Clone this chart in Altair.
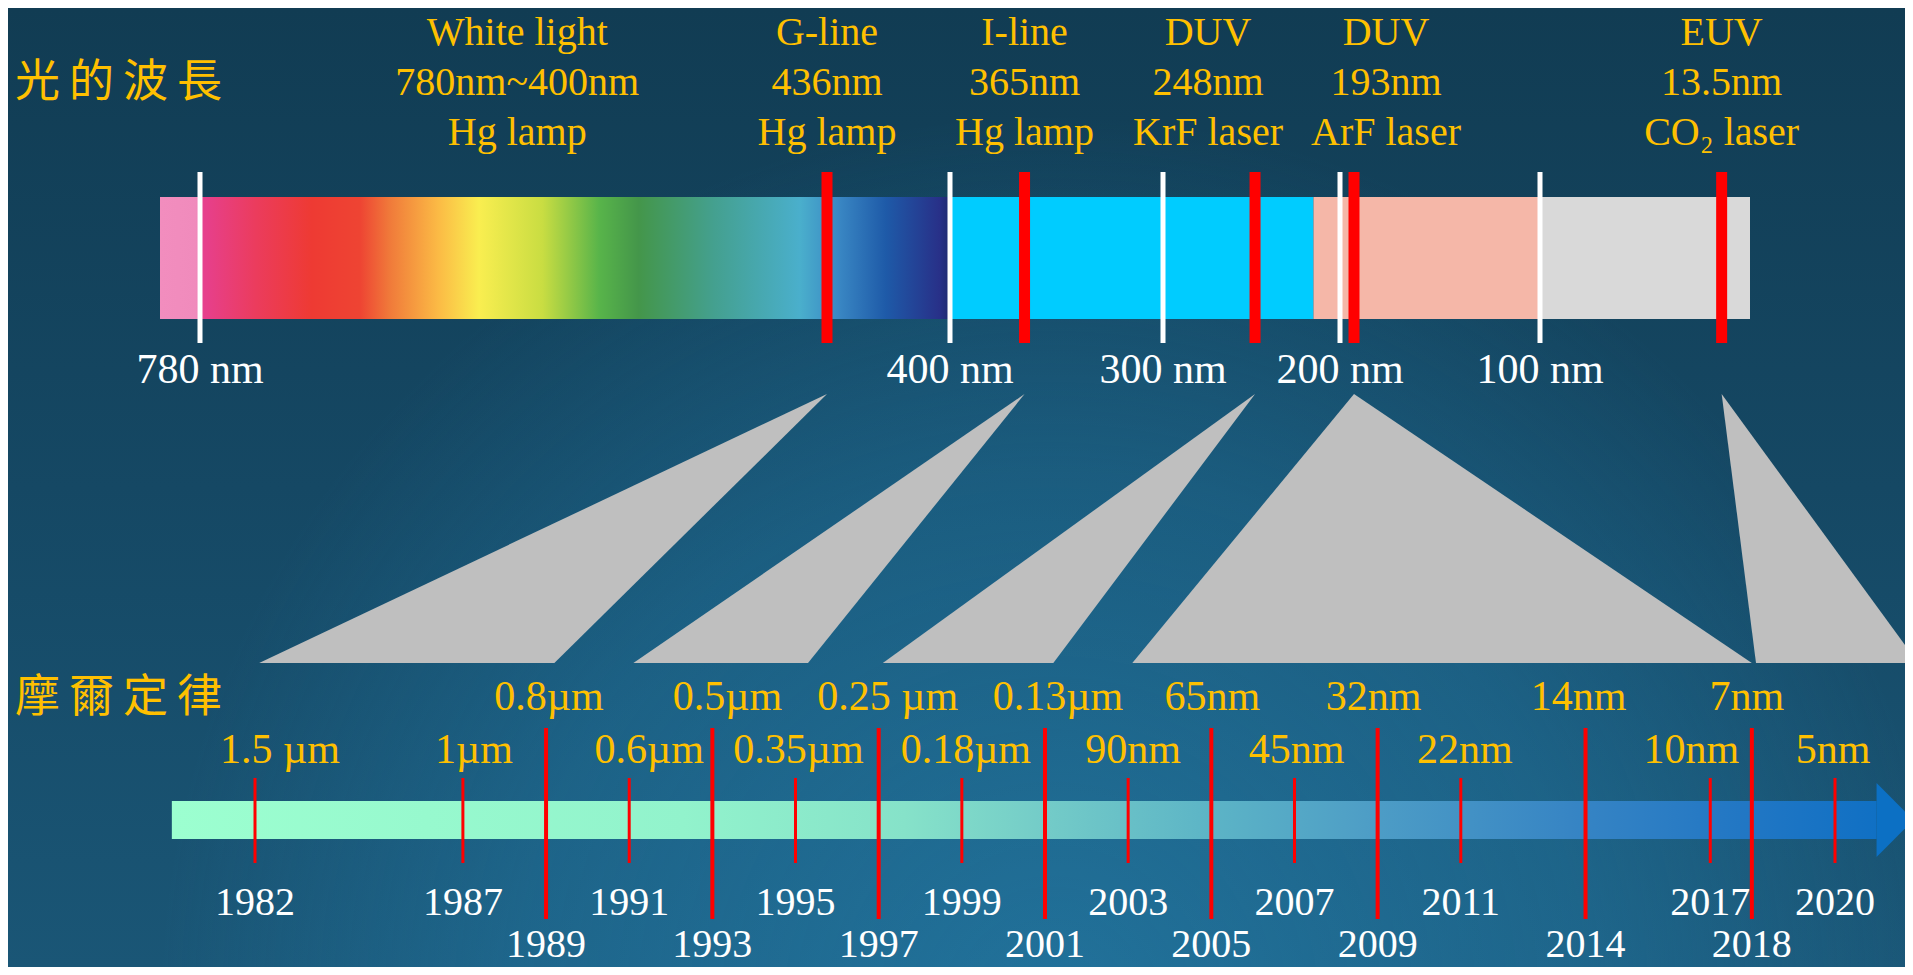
import altair as alt
import pandas as pd

# ================= values =================
# top bar: regions of the spectrum, in nm
REGION_START_NM = [800, 400, 215, 100]
REGION_END_NM = [400, 215, 100, 0]
REGION_COLOURS = ["#00CCFF", "#F5B7A8", "#D9D9D9"]  # regions 2..4 (region 1 = visible spectrum)

TICK_NM = [780, 400, 300, 200, 100]
TICK_TEXT = ["780 nm", "400 nm", "300 nm", "200 nm", "100 nm"]

SOURCE_NM = [436, 365, 248, 193, 13.5]
SOURCE_NAME = ["G-line", "I-line", "DUV", "DUV", "EUV"]
SOURCE_WAVE = ["436nm", "365nm", "248nm", "193nm", "13.5nm"]
SOURCE_KIND = ["Hg lamp", "Hg lamp", "KrF laser", "ArF laser", "CO\u2082 laser"]

WHITE_RANGE_NM = [780, 400]
WHITE_TEXT = ["White light", "780nm~400nm", "Hg lamp"]

# bottom: Moore's law timeline
YEARS = [1982, 1987, 1989, 1991, 1993, 1995, 1997, 1999, 2001,
         2003, 2005, 2007, 2009, 2011, 2014, 2017, 2018, 2020]
NODES = ["1.5 \u00b5m", "1\u00b5m", "0.8\u00b5m", "0.6\u00b5m", "0.5\u00b5m", "0.35\u00b5m",
         "0.25 \u00b5m", "0.18\u00b5m", "0.13\u00b5m", "90nm", "65nm", "45nm", "32nm",
         "22nm", "14nm", "10nm", "7nm", "5nm"]
LONG_TICK = [False, False, True, False, True, False, True, False, True,
             False, True, False, True, False, True, False, True, False]
TIMELINE_YEARS = [1980, 2021]

# grey connectors: light source (nm) -> span of years it served
CONNECT_NM = [436, 365, 248, 193, 13.5]
CONNECT_FROM = [1982.1, 1991.1, 1997.1, 2003.1, 2018.1]
CONNECT_TO = [1989.2, 1995.3, 2001.2, 2018.0, 2022.0]

TITLE_TOP = "\u5149\u2009\u7684\u2009\u6ce2\u2009\u9577"      # 光的波長
TITLE_BOTTOM = "\u6469\u2009\u723e\u2009\u5b9a\u2009\u5f8b"   # 摩爾定律

# ================= scales, layout and style =================
W, H = 1897, 959
# the reference's wavelength axis is illustrative (not to scale): piecewise mapping
WL_DOMAIN = [800, 780, 436, 400, 300, 200, 100, 0]
WL_RANGE = [152, 192, 819, 942, 1155, 1332, 1532, 1742]
YR_DOMAIN = [1982, 2020]
YR_RANGE = [247, 1827]

SERIF = "Liberation Serif"
CJK = "Noto Sans CJK TC"
YELLOW = "#FFC000"
RED = "#FF0000"

TOP_LABEL_BASE = 37
TOP_LINE_H = 50
SPEC_RULE = (164, 335)
SPEC_BAR = (189, 311)
NM_LABEL_BASE = 375
TRI_Y = (386, 655)
NODE_BASE_LONG = 702
NODE_BASE_SHORT = 755
LONG_RULE = (720, 911)
SHORT_RULE = (770, 855)
TL_BAR = (793, 831)
ARROW_Y = 812
YEAR_BASE_SHORT = 907
YEAR_BASE_LONG = 949
SOURCE_DX = [0, 0, -47, 32, 0]
WHITE_DX = -29
NODE_DX = [25, 11, 3, 20, 15, 3, 9, 4, 13, 5, 1, 2, -4, 4, -7, -19, -5, -2]


def wl_x(field):
    return alt.X(f"{field}:Q", axis=None,
                 scale=alt.Scale(domain=WL_DOMAIN, range=WL_RANGE, nice=False, zero=False))


def yr_x(field):
    return alt.X(f"{field}:Q", axis=None,
                 scale=alt.Scale(domain=YR_DOMAIN, range=YR_RANGE, nice=False, zero=False))


def stops(pairs):
    return [{"offset": o, "color": c} for o, c in pairs]


BG_LINEAR = {"gradient": "linear", "x1": 0, "y1": 0, "x2": 0, "y2": 1,
             "stops": stops([(0, "#113C53"), (0.5, "#154864"), (1, "#1A5676")])}
BG_GLOW = {"gradient": "radial", "x1": 0.55, "y1": 0.774, "r1": 0,
           "x2": 0.55, "y2": 0.774, "r2": 0.47,
           "stops": stops([(0, "rgba(40,140,190,0.5)"), (0.6, "rgba(40,140,190,0.3)"),
                           (1, "rgba(40,140,190,0)")])}
SPECTRUM = {"gradient": "linear", "x1": 0, "y1": 0, "x2": 1, "y2": 0,
            "stops": stops([(0, "#F28DBE"), (0.046, "#F08BBC"), (0.052, "#E64090"),
                            (0.12, "#EB3C5E"), (0.192, "#EE3A33"), (0.253, "#EE4433"),
                            (0.291, "#F07A3A"), (0.352, "#FBBA45"), (0.404, "#F9EE50"),
                            (0.484, "#C9DD42"), (0.556, "#58B44A"), (0.606, "#44964A"),
                            (0.701, "#44A08F"), (0.81, "#4AAFCC"), (0.858, "#3A88C4"),
                            (0.919, "#1E5AA8"), (0.987, "#283088"), (1, "#1E2A6E")])}
TIMELINE = {"gradient": "linear", "x1": 0, "y1": 0, "x2": 1, "y2": 0,
            "stops": stops([(0, "#9CFFD0"), (0.3, "#92F3CC"), (0.43, "#86E2C9"),
                            (0.51, "#74CCC8"), (0.61, "#5CB4C6"), (0.70, "#4E9EC6"),
                            (0.82, "#3785C4"), (0.91, "#2478C4"), (1, "#1070C4")])}

one = alt.Data(values=[{"k": 0}])

bg1 = alt.Chart(one).mark_rect(fill=BG_LINEAR, strokeWidth=0).encode(
    x=alt.value(0), x2=alt.value("width"), y=alt.value(0), y2=alt.value("height"))
bg2 = alt.Chart(one).mark_rect(fill=BG_GLOW, strokeWidth=0).encode(
    x=alt.value(0), x2=alt.value("width"), y=alt.value(0), y2=alt.value("height"))

# ---- top spectrum bar ----
spec_df = pd.DataFrame({"start": REGION_START_NM[:1], "end": REGION_END_NM[:1]})
spec = alt.Chart(spec_df).mark_rect(fill=SPECTRUM, strokeWidth=0).encode(
    x=wl_x("start"), x2="end:Q", y=alt.value(SPEC_BAR[0]), y2=alt.value(SPEC_BAR[1]))

reg_df = pd.DataFrame({"start": REGION_START_NM[1:], "end": REGION_END_NM[1:],
                       "colour": REGION_COLOURS})
regions = alt.Chart(reg_df).mark_rect(strokeWidth=0).encode(
    x=wl_x("start"), x2="end:Q", y=alt.value(SPEC_BAR[0]), y2=alt.value(SPEC_BAR[1]),
    fill=alt.Fill("colour:N", scale=None))

tick_df = pd.DataFrame({"nm": TICK_NM, "label": TICK_TEXT})
white_rules = alt.Chart(tick_df, name="wl").mark_rule(color="white", strokeWidth=5).encode(
    x=wl_x("nm"), y=alt.value(SPEC_RULE[0]), y2=alt.value(SPEC_RULE[1]))
tick_text = alt.Chart(tick_df).mark_text(
    font=SERIF, fontSize=42, color="white", align="center", baseline="alphabetic").encode(
    x=wl_x("nm"), y=alt.value(NM_LABEL_BASE), text="label:N")

src_df = pd.DataFrame({"nm": SOURCE_NM})
red_rules = alt.Chart(src_df).mark_rule(color=RED, strokeWidth=11).encode(
    x=wl_x("nm"), y=alt.value(SPEC_RULE[0]), y2=alt.value(SPEC_RULE[1]))


def top_label(nm, lines, dx):
    d = pd.DataFrame({"nm": [nm], "text": ["\n".join(lines)]})
    return alt.Chart(d).mark_text(
        font=SERIF, fontSize=40, color=YELLOW, align="center", baseline="alphabetic",
        lineBreak="\n", lineHeight=TOP_LINE_H, dx=dx).encode(
        x=wl_x("nm"), y=alt.value(TOP_LABEL_BASE), text="text:N")


top_labels = [top_label(nm, [a, b, c], dx)
              for nm, a, b, c, dx in zip(SOURCE_NM, SOURCE_NAME, SOURCE_WAVE, SOURCE_KIND, SOURCE_DX)]
top_labels.append(top_label(sum(WHITE_RANGE_NM) / 2, WHITE_TEXT, WHITE_DX))

# ---- timeline ----
tl_df = pd.DataFrame({"start": [TIMELINE_YEARS[0]], "end": [TIMELINE_YEARS[1]]})
tl_bar = alt.Chart(tl_df, name="yr").mark_rect(fill=TIMELINE, strokeWidth=0).encode(
    x=yr_x("start"), x2="end:Q", y=alt.value(TL_BAR[0]), y2=alt.value(TL_BAR[1]))
arrow = alt.Chart(tl_df).mark_point(
    shape="M0,-1L1,0L0,1Z", size=5476, filled=True, fill="#0C70C4", opacity=1,
    strokeWidth=0).encode(x=yr_x("end"), y=alt.value(ARROW_Y))

yr_df = pd.DataFrame({"i": list(range(len(YEARS))), "year": YEARS, "node": NODES,
                      "long": LONG_TICK})
short_rules = alt.Chart(yr_df).transform_filter("!datum.long").mark_rule(
    color=RED, strokeWidth=3).encode(
    x=yr_x("year"), y=alt.value(SHORT_RULE[0]), y2=alt.value(SHORT_RULE[1]))
long_rules = alt.Chart(yr_df).transform_filter("datum.long").mark_rule(
    color=RED, strokeWidth=4).encode(
    x=yr_x("year"), y=alt.value(LONG_RULE[0]), y2=alt.value(LONG_RULE[1]))


def yr_text(filt, field, base, colour, size, dx=0):
    return alt.Chart(yr_df).transform_filter(filt).mark_text(
        font=SERIF, fontSize=size, color=colour, align="center", baseline="alphabetic",
        dx=dx).encode(x=yr_x("year"), y=alt.value(base), text=f"{field}:N")


node_labels = []
for i, (is_long, dx) in enumerate(zip(LONG_TICK, NODE_DX)):
    base = NODE_BASE_LONG if is_long else NODE_BASE_SHORT
    node_labels.append(yr_text(f"datum.i == {i}", "node", base, YELLOW, 42, dx))
year_short = yr_text("!datum.long", "year", YEAR_BASE_SHORT, "white", 40)
year_long = yr_text("datum.long", "year", YEAR_BASE_LONG, "white", 40)

# ---- grey connectors ----
tri_rows = []
for i, (nm, a, b) in enumerate(zip(CONNECT_NM, CONNECT_FROM, CONNECT_TO)):
    tri_rows.append({"id": i, "level": 0, "nm": nm, "y_a": None, "y_b": None})
    tri_rows.append({"id": i, "level": 1, "nm": None, "y_a": a, "y_b": b})
tri = alt.Chart(alt.Data(values=tri_rows)).transform_calculate(
    px="datum.level == 0 ? scale('wl_x', datum.nm) : scale('yr_x', datum.y_a)",
    px2="datum.level == 0 ? scale('wl_x', datum.nm) : scale('yr_x', datum.y_b)",
).mark_area(orient="horizontal", color="#BFBFBF", opacity=1, strokeWidth=0).encode(
    y=alt.Y("level:Q", axis=None, scale=alt.Scale(domain=[0, 1], range=list(TRI_Y))),
    x=alt.X("px:Q", scale=None, stack=False),
    x2="px2:Q",
    detail="id:N",
)

# ---- titles ----
titles = []
for t, base in [(TITLE_TOP, 89), (TITLE_BOTTOM, 704)]:
    titles.append(alt.Chart(alt.Data(values=[{"t": t}])).mark_text(
        font=CJK, fontSize=45, color=YELLOW, align="left", baseline="alphabetic").encode(
        x=alt.value(7), y=alt.value(base), text="t:N"))

chart = alt.layer(
    bg1, bg2, tri, spec, regions, white_rules, red_rules, tick_text, *top_labels,
    tl_bar, arrow, short_rules, long_rules, *node_labels, year_short, year_long,
    *titles,
).resolve_scale(x="independent", y="independent").properties(
    width=W, height=H, padding=0, autosize=alt.AutoSizeParams(type="none"),
    background="#113C53",
).configure_view(stroke=None)

chart.save("out.html", embed_options={"renderer": "svg", "actions": False})
